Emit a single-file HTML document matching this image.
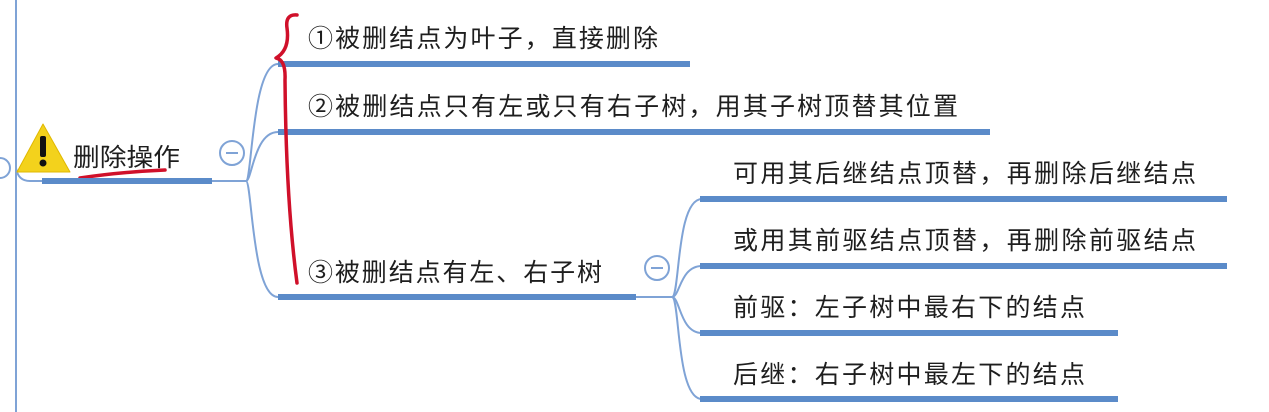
<!DOCTYPE html>
<html><head><meta charset="utf-8"><style>
html,body{margin:0;padding:0;background:#fff;}
svg{display:block;}
text{font-family:"Liberation Sans","Noto Sans CJK SC",sans-serif;fill:#1e1e1e;font-size:25px;}
</style></head><body>
<svg width="1269" height="412" viewBox="0 0 1269 412" xmlns="http://www.w3.org/2000/svg">
<line x1="16" y1="0" x2="16" y2="412" stroke="#7fa3d6" stroke-width="2"/>
<circle cx="0" cy="168" r="10" fill="#fff" stroke="#7fa3d6" stroke-width="2"/>
<path d="M16 168 Q18 181 30 181 L42 181" fill="none" stroke="#7fa3d6" stroke-width="2"/>
<path d="M43 124 L70 172 L17 172 Z" fill="#f3d21c" stroke="#e0b800" stroke-width="1" stroke-linejoin="round"/>
<rect x="40" y="136" width="6" height="21" rx="2" fill="#111"/>
<circle cx="43" cy="163" r="3.5" fill="#111"/>
<text x="73" y="166" textLength="107" lengthAdjust="spacingAndGlyphs">删除操作</text>
<path d="M80 178 Q120 172 165 170" fill="none" stroke="#d0102a" stroke-width="3.5" stroke-linecap="round"/>
<rect x="42" y="178" width="170" height="6" fill="#5b8bc9"/>
<line x1="212" y1="181" x2="246" y2="181" stroke="#7fa3d6" stroke-width="2"/>
<circle cx="232" cy="153" r="12" fill="#fff" stroke="#7fa3d6" stroke-width="2"/>
<line x1="226" y1="153" x2="238" y2="153" stroke="#7fa3d6" stroke-width="2"/>
<g fill="none" stroke="#7fa3d6" stroke-width="2">
<path d="M246 181 C252 181 252 64 278 64"/>
<path d="M246 181 C252 181 254 132 278 132"/>
<path d="M246 181 C252 181 252 297 278 297"/>
</g>
<rect x="278" y="61" width="412" height="6" fill="#5b8bc9"/>
<rect x="278" y="129" width="712" height="6" fill="#5b8bc9"/>
<rect x="278" y="294" width="358" height="6" fill="#5b8bc9"/>
<text x="308" y="47" textLength="350" lengthAdjust="spacing">①被删结点为叶子，直接删除</text>
<text x="308" y="115" textLength="650" lengthAdjust="spacing">②被删结点只有左或只有右子树，用其子树顶替其位置</text>
<text x="308" y="281" textLength="294" lengthAdjust="spacing">③被删结点有左、右子树</text>
<path d="M297 15 Q285 14 287 28 Q290 50 276 58 Q286 60 285 80 Q286 200 297 283" fill="none" stroke="#d0102a" stroke-width="3.5" stroke-linecap="round" stroke-linejoin="round"/>
<line x1="636" y1="297" x2="672" y2="297" stroke="#7fa3d6" stroke-width="2"/>
<circle cx="657" cy="268" r="12" fill="#fff" stroke="#7fa3d6" stroke-width="2"/>
<line x1="651" y1="268" x2="663" y2="268" stroke="#7fa3d6" stroke-width="2"/>
<g fill="none" stroke="#7fa3d6" stroke-width="2">
<path d="M672 297 C680 297 676 199 702 199"/>
<path d="M672 297 C680 297 680 266 702 266"/>
<path d="M672 297 C680 297 680 333 702 333"/>
<path d="M672 297 C680 297 676 399 702 399"/>
</g>
<rect x="700" y="196" width="527" height="6" fill="#5b8bc9"/>
<rect x="700" y="263" width="527" height="6" fill="#5b8bc9"/>
<rect x="700" y="330" width="418" height="6" fill="#5b8bc9"/>
<rect x="700" y="396" width="418" height="6" fill="#5b8bc9"/>
<text x="733" y="182" textLength="463" lengthAdjust="spacing">可用其后继结点顶替，再删除后继结点</text>
<text x="733" y="249" textLength="463" lengthAdjust="spacing">或用其前驱结点顶替，再删除前驱结点</text>
<text x="733" y="316" textLength="352" lengthAdjust="spacing">前驱：左子树中最右下的结点</text>
<text x="733" y="383" textLength="352" lengthAdjust="spacing">后继：右子树中最左下的结点</text>
</svg>
</body></html>
